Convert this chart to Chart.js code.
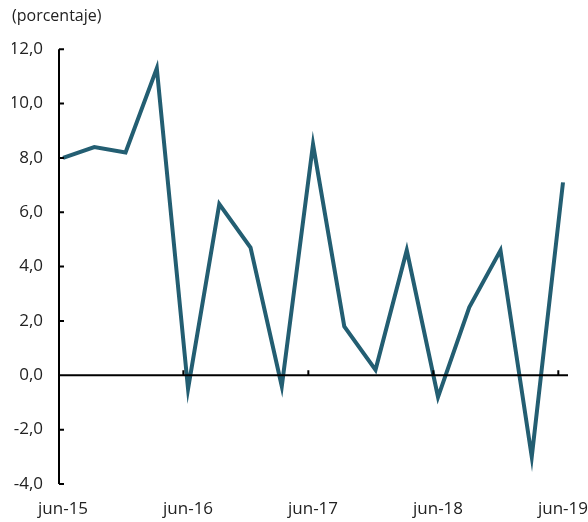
<!DOCTYPE html>
<html>
<head>
<meta charset="utf-8">
<script src="https://cdn.jsdelivr.net/npm/chart.js@4"></script>
<style>
  html, body { margin: 0; padding: 0; background: #fff; }
  #wrap { width: 588px; height: 522px; }
</style>
</head>
<body>
<div id="wrap"><canvas id="graph"></canvas></div>
<script>
var categories = ['jun-15', 'sep-15', 'dic-15', 'mar-16', 'jun-16', 'sep-16', 'dic-16', 'mar-17',
  'jun-17', 'sep-17', 'dic-17', 'mar-18', 'jun-18', 'sep-18', 'dic-18', 'mar-19', 'jun-19'];
var values = [8.0, 8.4, 8.2, 11.3, -0.5, 6.3, 4.7, -0.4, 8.5, 1.8, 0.2, 4.6, -0.8, 2.5, 4.6, -3.0, 7.1];
var xTickLabels = ['jun-15', 'jun-16', 'jun-17', 'jun-18', 'jun-19'];
var yTicks = [-4, -2, 0, 2, 4, 6, 8, 10, 12];

var ctx = document.getElementById('graph');

// axis lines + inward tick marks, drawn through the scales
var axisPlugin = {
  id: 'axes',
  afterDatasetsDraw: function (chart) {
    var c = chart.ctx, x = chart.scales.x, y = chart.scales.y;
    var area = chart.chartArea;
    var x0 = x.getPixelForValue(x.min);
    var y0 = y.getPixelForValue(0);
    c.save();
    c.strokeStyle = '#000';
    c.lineWidth = 2;
    c.beginPath();
    c.moveTo(x0, y.getPixelForValue(12));
    c.lineTo(x0, y.getPixelForValue(-4));
    c.moveTo(x0, y0);
    c.lineTo(area.right, y0);
    yTicks.forEach(function (v) {
      var py = y.getPixelForValue(v);
      c.moveTo(x0, py);
      c.lineTo(x0 + 5, py);
    });
    [1, 2, 3, 4].forEach(function (k) {
      var px = x.getPixelForValue(categories.indexOf(xTickLabels[k]) - 0.15);
      c.moveTo(px, y0);
      c.lineTo(px, y0 - 5);
    });
    c.stroke();
    c.restore();
  }
};

var config = {
  type: 'line',
  data: {
    datasets: [{
      data: values.map(function (v, i) { return { x: i, y: v }; }),
      borderColor: 'rgb(35, 94, 114)',
      borderWidth: 4,
      borderJoinStyle: 'miter',
      pointRadius: 0,
      tension: 0,
      fill: false
    }]
  },
  options: {
    responsive: true,
    maintainAspectRatio: false,
    animation: false,
    layout: { padding: { left: 12, right: 0, top: 0, bottom: 0 } },
    plugins: {
      legend: { display: false },
      tooltip: { enabled: false },
      title: {
        display: true,
        text: '(porcentaje)',
        align: 'start',
        color: '#222',
        font: { family: 'Open Sans', size: 16, weight: 'normal' },
        padding: { top: 7, bottom: 23 }
      }
    },
    scales: {
      x: {
        type: 'linear',
        min: -0.13,
        max: 16.16,
        grid: { display: false, drawTicks: false },
        border: { display: false },
        afterBuildTicks: function (s) {
          s.ticks = xTickLabels.map(function (l) { return { value: categories.indexOf(l) }; });
        },
        afterFit: function (s) { s.height = 38; s.paddingRight = 20; s.paddingLeft = 0; },
        ticks: {
          autoSkip: false,
          maxRotation: 0,
          padding: 15,
          color: '#222',
          font: { family: 'Open Sans', size: 17 },
          callback: function (v) { return categories[v]; }
        }
      },
      y: {
        min: -4,
        max: 12,
        grid: { display: false, drawTicks: false },
        border: { display: false },
        afterBuildTicks: function (s) {
          s.ticks = yTicks.map(function (v) { return { value: v }; });
        },
        afterFit: function (s) { s.width = 47; s.paddingTop = 0; s.paddingBottom = 0; },
        ticks: {
          padding: 16,
          color: '#222',
          font: { family: 'Open Sans', size: 17 },
          callback: function (v) { return v.toFixed(1).replace('.', ','); }
        }
      }
    }
  },
  plugins: [axisPlugin]
};

var myChart = new Chart(ctx, config);
</script>
</body>
</html>
